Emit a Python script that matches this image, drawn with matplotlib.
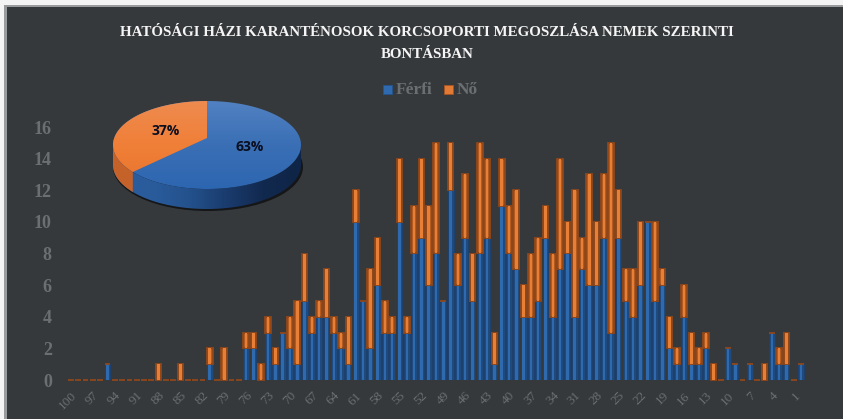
# -*- coding: utf-8 -*-
import numpy as np
import matplotlib
matplotlib.use("Agg")
import matplotlib.pyplot as plt
from matplotlib.colors import LinearSegmentedColormap
from matplotlib.patches import Polygon, Rectangle, Ellipse

# korcsoport 100 -> 0
ages = list(range(100, -1, -1))
ferfi = [0,0,0,0,0,1,0,0,0,0,0,0,0,0,0,0,0,0,0,1,0,0,0,0,2,2,0,3,1,3,
         2,1,5,3,4,4,3,2,1,10,5,2,6,3,3,10,3,8,9,6,8,5,12,6,9,5,8,9,1,11,
         8,7,4,4,5,9,4,7,8,4,7,6,6,9,3,9,5,4,6,10,5,6,2,1,4,1,1,2,0,0,
         2,1,0,1,0,0,3,1,1,0,1]
no = [0,0,0,0,0,0,0,0,0,0,0,0,1,0,0,1,0,0,0,1,0,2,0,0,1,1,1,1,1,0,
      2,4,3,1,1,3,1,1,3,2,0,5,3,2,1,4,1,3,5,5,7,0,3,2,4,3,7,5,2,3,
      3,5,2,4,4,2,4,7,2,8,2,7,4,4,12,3,2,3,4,0,5,1,2,1,2,2,1,1,1,0,
      0,0,0,0,0,1,0,1,2,0,0]
yticks = [0, 2, 4, 6, 8, 10, 12, 14, 16]
tick_ages = list(range(100, 0, -3))
pie_labels = ["Férfi", "Nő"]
pie_shares = [63, 37]
title = "HATÓSÁGI HÁZI KARANTÉNOSOK KORCSOPORTI MEGOSZLÁSA NEMEK SZERINTI\nBONTÁSBAN"

W, H = 843, 419
BG = "#36393b"
GREY = "#6c6f71"
SERIF = "Liberation Serif"

fig = plt.figure(figsize=(W/100, H/100), dpi=100, facecolor=BG)

# oszlopok: 0. index x=71 px, 100. index x=801 px, 0 y=380 px, 16 y=127 px
x_left, x_right = 58, 815
ax = fig.add_axes([x_left/W, (H-380)/H, (x_right-x_left)/W, (380-127)/H])
ax.set_facecolor("none")
ax.set_xlim((x_left-71)/7.3, (x_right-71)/7.3)
ax.set_ylim(0, 16)

pos = np.arange(len(ages))
ferfi = np.array(ferfi)
no = np.array(no)
ax.bar(pos, ferfi, width=0.8, color="#1e4a7d", edgecolor="#1b4270", lw=0.6, zorder=2)
ax.bar(pos, ferfi, width=0.34, color="#2f69ae", lw=0, zorder=3)
ax.bar(pos, no, bottom=ferfi, width=0.78, color="#b35a21", edgecolor="#8f4719", lw=1.3, zorder=4, clip_on=False)
ax.bar(pos, no, bottom=ferfi, width=0.34, color="#e87f36", lw=0, zorder=5)

for s in ax.spines.values():
    s.set_visible(False)
ax.set_yticks(yticks)
ax.set_yticklabels([str(v) for v in yticks], fontsize=13, fontweight="bold", color=GREY, family=SERIF)
ax.set_xticks([ages.index(a) for a in tick_ages])
ax.set_xticklabels([str(a) for a in tick_ages], rotation=45, ha="right", va="top",
                   rotation_mode="anchor", fontsize=9.5, color=GREY, family=SERIF)
ax.tick_params(axis="both", length=0)
ax.tick_params(axis="y", pad=4.5)
ax.tick_params(axis="x", pad=7)

# felso reteg pixel koordinatakkal: keret, cim, jelmagyarazat, kordiagram
ov = fig.add_axes([0, 0, 1, 1], zorder=10)
ov.set_facecolor("none")
ov.axis("off")

ov.add_patch(Rectangle((0, 0), W, 5, color="#f4f4f4", lw=0))
ov.add_patch(Rectangle((0, 5), W, 2.5, color="#9a9b9c", lw=0))
ov.add_patch(Rectangle((0, 0), 4, H, color="#f4f4f4", lw=0))
ov.add_patch(Rectangle((4, 5), 2.5, H, color="#9a9b9c", lw=0))

ov.text(427, 43.5, title, color="#f5f5f5", fontsize=10.8, fontweight="bold", family=SERIF,
        ha="center", va="center", linespacing=1.9)

ov.add_patch(Rectangle((383, 85), 9, 9, facecolor="#2f69ae", edgecolor="#24548c", lw=0.6))
ov.text(396, 90, pie_labels[0], color=GREY, fontsize=12.5, fontweight="bold", family=SERIF, va="center")
ov.add_patch(Rectangle((444, 85), 9, 9, facecolor="#e07a35", edgecolor="#a8541f", lw=0.6))
ov.text(457, 90, pie_labels[1], color=GREY, fontsize=12.5, fontweight="bold", family=SERIF, va="center")

# kor: felul nezett 3D hatas
cx, cy, a, b = 207, 145, 94, 44
depth = 20
apex = (207, 138)


def ell(t):
    return np.column_stack([cx + a*np.cos(t), cy - b*np.sin(t)])


def grad(colors, extent, clip, vertical=False):
    cm = LinearSegmentedColormap.from_list("g", colors)
    arr = np.linspace(0, 1, 256)
    arr = arr[:, None] if vertical else arr[None, :]
    im = ov.imshow(arr, cmap=cm, extent=extent, aspect="auto", zorder=3)
    clip.set_transform(ov.transData)
    im.set_clip_path(clip)


# arnyek
ov.add_patch(Ellipse((cx+1, cy+depth+2), 2*a+2, 2*b, facecolor="#151618", lw=0, zorder=1))

# oldalfal
t_split = np.radians(90 + 360*pie_shares[1]/100*0.96)
t_low = np.linspace(np.pi, 2*np.pi, 200)
side = np.vstack([ell(t_low), ell(t_low[::-1]) + [0, depth]])
grad(["#2a5c9c", "#2a5c9c", "#24528d", "#1a3c6e", "#12294f", "#0f2547"],
     (cx-a, cx+a, cy+b+depth+1, cy-1), Polygon(side, closed=True))
# oldalfal narancs resze
t_o = np.linspace(np.pi, t_split, 60)
ov.add_patch(Polygon(np.vstack([ell(t_o), ell(t_o[::-1]) + [0, depth]]), closed=True,
                     facecolor="#c4622a", lw=0, zorder=4))

# teteje
t_all = np.linspace(0, 2*np.pi, 400)
grad(["#5181c2", "#3a6fb5", "#2d66b0"], (cx-a, cx+a, cy+b, cy-b),
     Polygon(ell(t_all), closed=True), vertical=True)
t_w = np.linspace(np.pi/2, t_split, 120)
wedge = np.vstack([[apex], ell(t_w)])
grad(["#ee8b4f", "#f07f38", "#e8742c"], (cx-a, cx+a, cy+b, cy-b),
     Polygon(wedge, closed=True), vertical=True)

pct = {"family": "Open Sans", "fontsize": 10, "fontweight": "bold", "color": "#0b0f1f",
       "ha": "center", "va": "center", "zorder": 6}
ov.text(249.5, 147, f"{pie_shares[0]}%", **pct)
ov.text(165.5, 130.5, f"{pie_shares[1]}%", **pct)

ov.set_xlim(0, W)
ov.set_ylim(H, 0)

fig.savefig("out.png", dpi=100, facecolor=BG)
